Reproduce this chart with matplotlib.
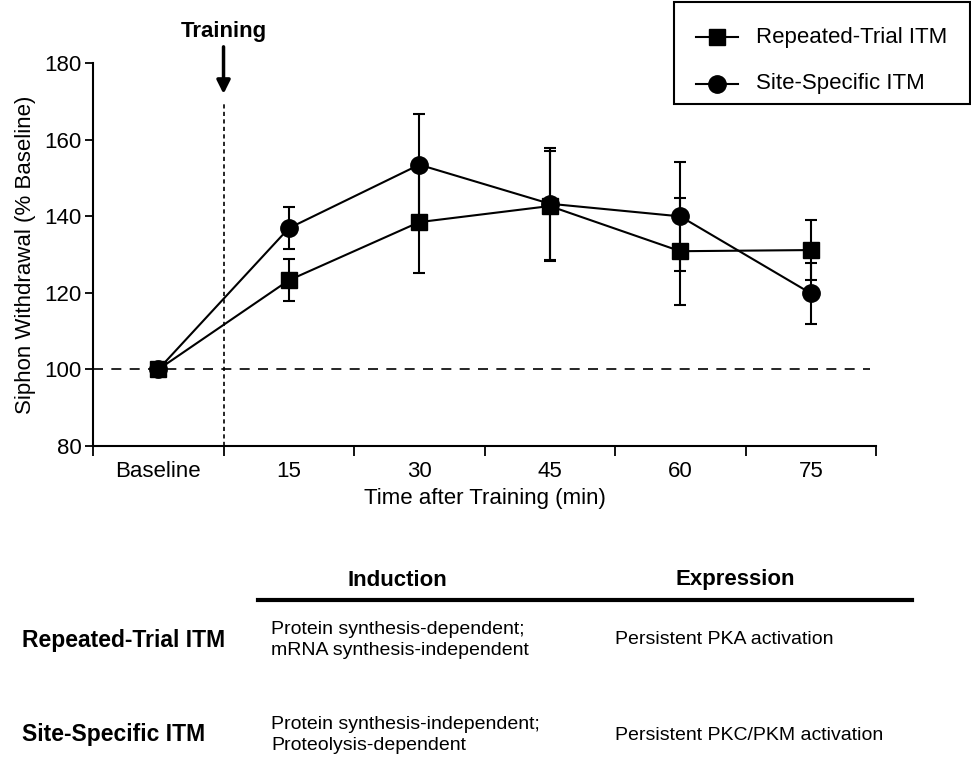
import numpy as np
import matplotlib
matplotlib.use("Agg")
import matplotlib.pyplot as plt
from matplotlib.lines import Line2D
from matplotlib.patches import Rectangle

plt.rcParams['font.family'] = ['Liberation Sans', 'DejaVu Sans']

# time points after training
time_labels = ['Baseline', '15', '30', '45', '60', '75']

# siphon withdrawal, % of baseline
repeated_mean = [100, 123.3, 138.5, 142.7, 130.9, 131.2]
repeated_err = [0, 5.5, 13.4, 14.3, 14.0, 7.9]
site_mean = [100, 136.9, 153.5, 143.3, 140.0, 119.9]
site_err = [0, 5.5, 13.3, 14.6, 14.3, 7.9]

row_names = ['Repeated-Trial ITM', 'Site-Specific ITM']
induction = ['Protein synthesis-dependent;\nmRNA synthesis-independent',
             'Protein synthesis-independent;\nProteolysis-dependent']
expression = ['Persistent PKA activation', 'Persistent PKC/PKM activation']

W, H = 971, 757
fig = plt.figure(figsize=(W / 100, H / 100), dpi=100)
ax = fig.add_axes([0.0958, 0.4108, 0.8064, 0.5056])

x = np.arange(len(time_labels))

ax.axhline(100, color='black', lw=1.2, dashes=(6, 5), xmin=0, xmax=0.992, zorder=1)
ax.plot([0.5, 0.5], [80, 170], color='black', lw=1.2, dashes=(2.5, 2), zorder=1)

ax.errorbar(x, repeated_mean, yerr=repeated_err, color='black', lw=1.5,
            marker='s', markersize=12, capsize=4, elinewidth=1.5, capthick=1.5,
            zorder=3)
ax.errorbar(x, site_mean, yerr=site_err, color='black', lw=1.5,
            marker='o', markersize=12.5, capsize=4, elinewidth=1.5, capthick=1.5,
            zorder=3)

ax.set_xlim(-0.5, 5.5)
ax.set_ylim(80, 180)
ax.set_yticks([80, 100, 120, 140, 160, 180])
ax.set_xticks(np.arange(-0.5, 6, 1))
ax.set_xticklabels([])
ax.set_xticks(x, minor=True)
ax.set_xticklabels(time_labels, minor=True)
ax.tick_params(axis='x', which='minor', length=0, pad=11, labelsize=16)
ax.tick_params(axis='x', which='major', length=7, width=1.3, direction='out')
ax.tick_params(axis='y', length=6, width=1.3, direction='out', labelsize=16, pad=2)
for side in ['top', 'right']:
    ax.spines[side].set_visible(False)
for side in ['left', 'bottom']:
    ax.spines[side].set_linewidth(1.5)

ax.set_xlabel('Time after Training (min)', fontsize=16, labelpad=4)
ax.set_ylabel('Siphon Withdrawal (% Baseline)', fontsize=16, labelpad=6)

# training marker above the plot
ax.text(0.5, 188.3, 'Training', ha='center', va='center', fontsize=16,
        fontweight='bold', clip_on=False)
ax.annotate('', xy=(0.5, 172.0), xytext=(0.5, 184.3),
            arrowprops=dict(arrowstyle='-|>,head_length=0.8,head_width=0.4',
                            color='black', lw=2.5, shrinkA=0, shrinkB=0),
            annotation_clip=False)

# key box in the top right corner (pixel positions converted to figure coords)
def fx(px):
    return px / W

def fy(py):
    return 1 - py / H

fig.add_artist(Rectangle((fx(674), fy(104)), fx(970) - fx(674), fy(2) - fy(104),
                         transform=fig.transFigure, fill=False,
                         edgecolor='black', lw=1.5))
for name, mk, ms, py in zip(row_names, ['s', 'o'], [12, 12.5], [37, 84]):
    fig.add_artist(Line2D([fx(696), fx(738)], [fy(py), fy(py)], color='black',
                          lw=1.5))
    fig.add_artist(Line2D([fx(717)], [fy(py)], color='black', marker=mk,
                          markersize=ms))
    fig.text(fx(756), fy(py), name, ha='left', va='center', fontsize=16)

# summary table below the plot
fig.text(fx(397), fy(581), 'Induction', ha='center', va='center',
         fontsize=16, fontweight='bold')
fig.text(fx(735), fy(580), 'Expression', ha='center', va='center',
         fontsize=16, fontweight='bold')
fig.add_artist(Line2D([fx(258), fx(912)], [fy(600), fy(600)], color='black', lw=3))

row_y = [640, 735]
for name, ind, expr, py in zip(row_names, induction, expression, row_y):
    fig.text(fx(22), fy(py), name, ha='left', va='center', fontsize=16.5,
             fontweight='bold')
    fig.text(fx(271), fy(py), ind, ha='left', va='center', fontsize=14,
             linespacing=1.3)
    fig.text(fx(615), fy(py), expr, ha='left', va='center', fontsize=14)

fig.savefig('out.png', dpi=100)
